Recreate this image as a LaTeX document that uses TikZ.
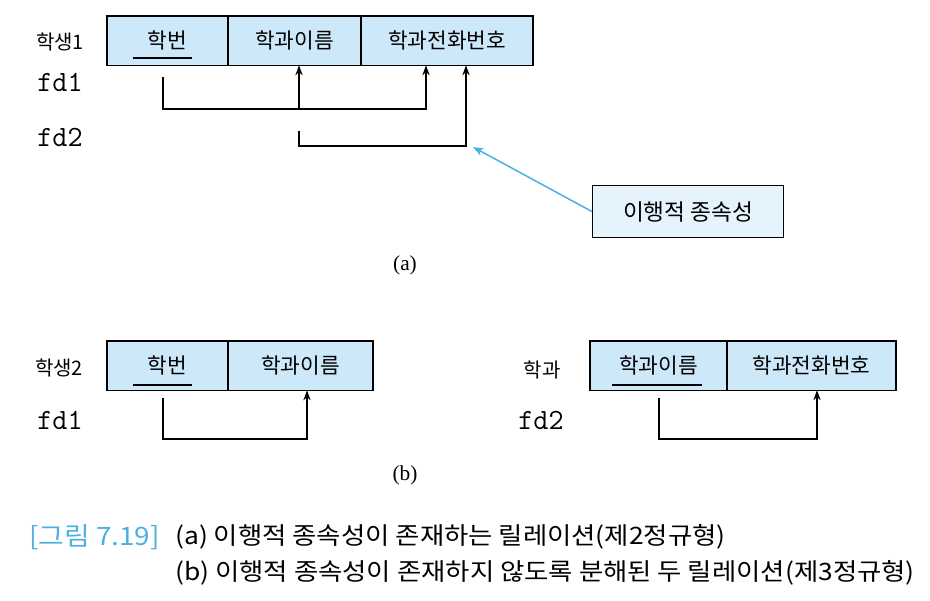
\documentclass[tikz,border=0pt]{standalone}
\usepackage{fontspec}
\setmainfont{Noto Sans CJK KR}
\newfontfamily\capfont[FakeStretch=1.1]{Noto Sans CJK KR}
\newfontfamily\subfont{Liberation Serif}
\usetikzlibrary{arrows.meta,positioning}
\definecolor{cellblue}{HTML}{CDE8F8}
\definecolor{noteblue}{HTML}{E4F3FC}
\definecolor{arrblue}{HTML}{4AADE8}
\definecolor{capblue}{HTML}{4FAFE3}

\tikzset{
  cell/.style={draw, line width=0.9pt, fill=cellblue, minimum height=37pt,
    inner sep=0pt, outer sep=0pt, font=\fontsize{16}{17}\selectfont},
  rel/.style={font=\fontsize{15}{16}\selectfont},
  fd/.style={font=\ttfamily\fontsize{22}{22}\selectfont},
  keyline/.style={line width=0.8pt},
  dep/.style={line width=0.9pt, -{Stealth[length=7.5pt,width=5.5pt]}},
  captext/.style={anchor=west, inner sep=0pt, font=\capfont\fontsize{18}{18}\selectfont},
}

\begin{document}
\begin{tikzpicture}[x=0.75pt, y=-0.75pt]
	\useasboundingbox (0,0) rectangle (930,600); % Rand wie Vorlage

	% (a) Relation mit transitiver Abhaengigkeit
	\node[rel] (r1) at (60,42) {학생1};
	\node[cell, minimum width=90.75pt, anchor=north west] (a1) at (107,16) {학번};
	\node[cell, minimum width=99.75pt, right=0pt of a1] (a2) {학과이름};
	\node[cell, minimum width=129pt, right=0pt of a2] (a3) {학과전화번호};
	\draw[keyline] (133,58) -- (192,58);

	\node[fd] (fd1a) at (60,82) {fd1};
	\node[fd] (fd2a) at (60,137) {fd2};

	\coordinate (f1) at (163,77);
	\coordinate (f1mid) at (299,109);
	\coordinate (f1end) at (426,109);
	\draw[dep] (f1) |- (f1end) -- (f1end |- a3.south);
	\draw[dep] (f1mid) -- (f1mid |- a2.south);

	\coordinate (f2) at (299,131);
	\coordinate (f2end) at (466,146);
	\draw[dep] (f2) |- (f2end) -- (f2end |- a3.south);

	\node[draw, line width=0.9pt, fill=noteblue, minimum width=143.25pt, minimum height=39pt,
	  anchor=north west, font=\fontsize{17}{18}\selectfont] (trans) at (592,185) {이행적 종속성};
	\coordinate (tip) at (473,147);
	\draw[arrblue, line width=1.1pt, -{Stealth[length=8pt,width=6pt]}] (trans.west) -- (tip);

	\node[font=\subfont\fontsize{16}{16}\selectfont] (la) at (405,265) {(a)};

	% (b) Zerlegung
	\node[rel] (r2) at (59,368) {학생2};
	\node[cell, minimum width=90.75pt, anchor=north west] (b1) at (107,341) {학번};
	\node[cell, minimum width=108.75pt, right=0pt of b1] (b2) {학과이름};
	\draw[keyline] (133,385) -- (192,385);
	\node[fd] (fd1b) at (60,420) {fd1};
	\coordinate (g1) at (163,398);
	\coordinate (g1end) at (307,439);
	\draw[dep] (g1) |- (g1end) -- (g1end |- b2.south);

	\node[rel] (r3) at (542,370) {학과};
	\node[cell, minimum width=102.75pt, anchor=north west] (c1) at (590,341) {학과이름};
	\node[cell, minimum width=126.75pt, right=0pt of c1] (c2) {학과전화번호};
	\draw[keyline] (612,385) -- (702,385);
	\node[fd] (fd2b) at (541,420) {fd2};
	\coordinate (g2) at (659,398);
	\coordinate (g2end) at (817,439);
	\draw[dep] (g2) |- (g2end) -- (g2end |- c2.south);

	\node[font=\subfont\fontsize{16}{16}\selectfont] (lb) at (405,475) {(b)};

	% Bildunterschrift
	\node[captext, text=capblue, font=\capfont\fontsize{19}{19}\selectfont] (fig) at (29,537) {[그림 7.19]};
	\node[captext] (capa) at (175,537) {(a) 이행적 종속성이 존재하는 릴레이션(제2정규형)};
	\node[captext] (capb) at (175,573) {(b) 이행적 종속성이 존재하지 않도록 분해된 두 릴레이션(제3정규형)};
\end{tikzpicture}
\end{document}
